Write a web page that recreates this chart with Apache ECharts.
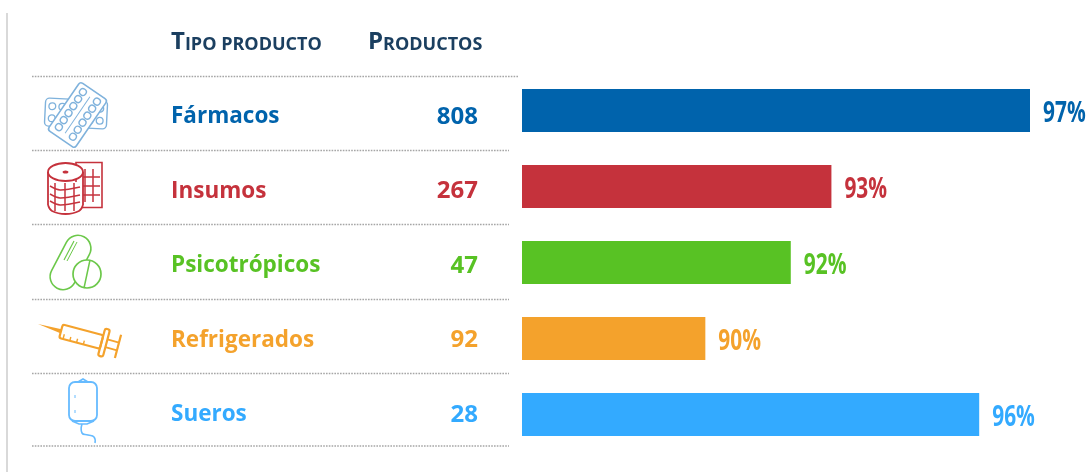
<!DOCTYPE html>
<html><head><meta charset="utf-8">
<style>html,body{margin:0;padding:0;background:#fff}#c{width:1090px;height:472px;filter:blur(0.45px)}</style>
<script src="https://cdn.jsdelivr.net/npm/echarts@6/dist/echarts.min.js"></script></head>
<body><div id="c"></div>
<script>
const categories = ['Fármacos','Insumos','Psicotrópicos','Refrigerados','Sueros'];
const products = [808,267,47,92,28];
const barValues = [97,92.7,91.82,89.97,95.9];
const pctLabels = ['97%','93%','92%','90%','96%'];
const colors = ['#0063AC','#C5323C','#58C224','#F4A22C','#33AAFF'];
const headers = ['Tipo producto','Productos'];
const ruleYs = [76.5,150.5,224.5,299.5,373.5,446];
const ruleEnds = [518,509,509,509,509,509];

const chart = echarts.init(document.getElementById('c'),null,{renderer:'canvas'});

function st(c,w){return {stroke:c,lineWidth:w||1.5,fill:'none'};}
function poly(pts,c,w,smooth){return {type:'polyline',shape:{points:pts,smooth:smooth||0},style:st(c,w)};}
function circ(x,y,r,c,w){return {type:'circle',shape:{cx:x,cy:y,r:r},style:st(c,w)};}
function rrect(x,y,wd,h,r,c,w,fill){return {type:'rect',shape:{x:x,y:y,width:wd,height:h,r:r},style:{stroke:c,lineWidth:w||1.5,fill:fill||'none'}};}

function pillsIcon(){
  const c='#7FB2DC';
  const back={type:'group',x:76,y:113.5,rotation:-0.05,children:[rrect(-31,-14,62,28,4,c,1.4,'#fff')]
    .concat([-24,-14,14,24].flatMap(x=>[circ(x,-6,3.4,c,1.3),circ(x,6,3.4,c,1.3)]))};
  const front={type:'group',x:77.5,y:115,rotation:-0.6,children:[]};
  front.children=[rrect(-16.5,-29,33,58,3,c,1.6,'#fff')]
    .concat([-22,-13.5,-5,3.5,12,20.5].flatMap(y=>[circ(-8.5,y,3.4,c,1.4),circ(8.5,y,3.4,c,1.4)]))
    .concat([{type:'line',shape:{x1:0,y1:-22,x2:0,y2:22},style:st(c,1)}]);
  return {type:'group',children:[back,front]};
}
function rollIcon(){
  const c='#C5323C';
  const kids=[
    rrect(76,162.5,26,45,0,c,1.6),
    {type:'ellipse',shape:{cx:65.5,cy:172,rx:17.5,ry:9},style:{stroke:c,lineWidth:1.8,fill:'#fff'}},
    {type:'ellipse',shape:{cx:65.5,cy:172,rx:3,ry:1.6},style:{fill:c}},
    {type:'rect',shape:{x:49,y:182,width:33,height:28},style:{fill:'#fff'}},
    poly([[48,172],[48,205]],c,1.8),poly([[83,172],[83,205]],c,1.8),
    poly([[48,205],[52,211],[65.5,214],[79,211],[83,205]],c,1.8,0.4),
    poly([[50,186],[60,190],[80,187]],c,1.5,0.3),
    poly([[50,194],[60,198],[80,195]],c,1.5,0.3),
    poly([[50,201],[60,205],[80,202]],c,1.5,0.3)
  ];
  [55,65,74].forEach(x=>kids.push(poly([[x,183],[x,211]],c,1.5)));
  [85,93].forEach(x=>kids.push(poly([[x,169],[x,202]],c,1.5)));
  [177,186,195].forEach(y=>kids.push(poly([[83,y],[100,y]],c,1.5)));
  return {type:'group',children:kids};
}
function capsuleIcon(){
  const c='#6CC84A';
  return {type:'group',children:[
    {type:'group',x:70.5,y:262.5,rotation:-0.48,children:[rrect(-13,-29,26,58,13,c,1.6)]},
    poly([[64,260],[74,241]],c,1.2),
    poly([[67,261],[77,242]],c,1),
    {type:'circle',shape:{cx:87,cy:274,r:14},style:{stroke:c,lineWidth:1.7,fill:'#fff'}},
    poly([[90,260],[84,288]],c,1.5)
  ]};
}
function syringeIcon(){
  const c='#F4A22C';
  return {type:'group',x:60,y:331,rotation:-0.26,children:[
    {type:'polygon',shape:{points:[[-23,-1],[1,-2],[1,2]]},style:{fill:c}},
    rrect(1,-7,42,14,2,c,2.2),
    poly([[5,7],[5,2]],c,1.4),poly([[12,7],[12,3]],c,1.4),poly([[19,7],[19,3]],c,1.4),poly([[26,7],[26,3]],c,1.4),
    rrect(43,-14,5,28,2,c,2.2),
    poly([[48,-4],[60,-4]],c,1.8),poly([[48,4],[60,4]],c,1.8),
    poly([[60,-12],[60,12]],c,2.2)
  ]};
}
function bagIcon(){
  const c='#66BBFF';
  return {type:'group',children:[
    rrect(69,382,28,39,6,c,1.8),
    poly([[78,382],[83,379],[88,382]],c,1.6),
    poly([[72,421],[79,424],[87,424],[94,421]],c,1.6),
    poly([[82,424],[82,433],[88,435],[94,437],[95,443]],c,1.6,0.5),
    poly([[75,395],[75,398]],c,1),poly([[75,410],[75,413]],c,1)
  ]};
}

function header(text,x){
  const [first,...rest]=text.toUpperCase();
  const base={fontFamily:'Open Sans',fontWeight:700,fill:'#1B3F60',color:'#1B3F60'};
  return {type:'text',x:x,y:30,style:{
    text:'{a|'+first+'}{b|'+rest.join('')+'}',
    rich:{a:{...base,fontSize:24},b:{...base,fontSize:18,verticalAlign:'bottom'}},
    fill:'#1B3F60'}};
}

const graphics=[
  {type:'line',shape:{x1:7,y1:13,x2:7,y2:472},style:{stroke:'#D9D9D9',lineWidth:2}},
  header(headers[0],171),header(headers[1],368),
  ...ruleYs.map((y,i)=>({type:'line',shape:{x1:32,y1:y,x2:ruleEnds[i],y2:y},style:{stroke:'#A6A6A6',lineWidth:1.6,lineDash:[1.6,1.2]}})),
  pillsIcon(),rollIcon(),capsuleIcon(),syringeIcon(),bagIcon()
];

const hiddenCat=(data,gi)=>({type:'category',inverse:true,data:data,gridIndex:gi,
  axisLine:{show:false},axisTick:{show:false}});

chart.setOption({
  animation:false,
  backgroundColor:'#fff',
  grid:[{left:522,width:508,top:72.5,height:380},{left:478,width:1,top:79.75,height:372.5}],
  xAxis:[{type:'value',min:86,max:97,show:false,splitLine:{show:false}},
         {type:'value',gridIndex:1,show:false,splitLine:{show:false}}],
  yAxis:[
    {...hiddenCat(categories,0),axisLabel:{show:false}},
    {...hiddenCat(categories,1),axisLabel:{margin:307,align:'left',fontFamily:'Open Sans',fontWeight:700,fontSize:22.5,
       color:(v,i)=>colors[i]}},
    {...hiddenCat(products,1),axisLabel:{margin:-1,align:'right',fontFamily:'Open Sans',fontWeight:700,fontSize:24,
       color:(v,i)=>colors[i]}}
  ],
  series:[
   {type:'bar',barWidth:43,data:barValues.map((v,i)=>({value:v,itemStyle:{color:colors[i]}}))},
   {type:'custom',data:barValues.map((v,i)=>[v,categories[i]]),encode:{x:0,y:1},z:5,clip:false,
    renderItem:(p,api)=>{
      const pt=api.coord([api.value(0),p.dataIndex]);
      return {type:'text',x:pt[0]+13,y:pt[1]+3,scaleX:0.72,scaleY:1,
        style:{text:pctLabels[p.dataIndex],fill:colors[p.dataIndex],fontFamily:'Open Sans',fontWeight:700,fontSize:29,
          align:'left',verticalAlign:'middle'}};
    }}
  ],
  graphic:{elements:graphics}
});
</script></body></html>
